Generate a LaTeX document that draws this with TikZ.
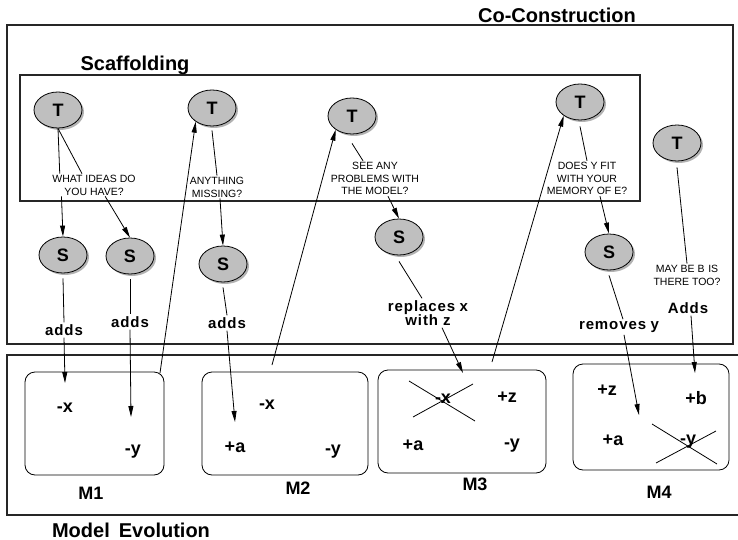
\documentclass[tikz,border=0pt]{standalone}
\usepackage{fontspec}
\setmainfont{Liberation Sans}
\usetikzlibrary{shapes.geometric,shadows,arrows.meta,calc}

\begin{document}
\begin{tikzpicture}[x=1pt,y=-1pt,
  frame/.style={draw=black!85, line width=1.1pt},
  model/.style={draw, line width=0.8pt, rounded corners=10pt, inner sep=0pt},
  actor/.style={ellipse, draw, line width=0.8pt, fill=black!25,
    minimum width=48pt, minimum height=36pt, inner sep=0pt,
    font=\fontsize{18}{18}\selectfont\bfseries,
    drop shadow={shadow xshift=2pt, shadow yshift=-2pt, fill=black!60}},
  heading/.style={font=\fontsize{20}{22}\selectfont\bfseries, inner sep=1pt},
  ask/.style={font=\fontsize{10.5}{12.8}\selectfont, align=center, inner sep=1pt},
  act/.style={font=\fontsize{15}{14}\selectfont\bfseries\addfontfeatures{LetterSpace=6},
    align=center, inner sep=2pt},
  entry/.style={font=\fontsize{18}{18}\selectfont\bfseries, inner sep=1pt},
  link/.style={line width=0.8pt},
  arr/.style={line width=0.8pt, -{Triangle[length=11pt,width=5pt]}},
]
\useasboundingbox (0,0) rectangle (738,540);

% outer frames
\draw[frame] (7,25) rectangle (733,344);
\draw[frame] (20,75) rectangle (640,201);
\draw[frame] (738,355) -- (7,355) -- (7,515) -- (738,515);

\node[heading] (cc) at (557,15) {Co-Construction};
\node[heading] (sc) at (135,65) {Scaffolding};
\node[heading] (me) at (131,530) {Model\hspace{0.45em}Evolution};

% model states
\node[model, minimum width=139pt, minimum height=103pt] (m1) at (94.5,423.5) {};
\node[model, minimum width=166pt, minimum height=103pt] (m2) at (285,423.5) {};
\node[model, minimum width=168pt, minimum height=103pt] (m3) at (462,421.5) {};
\node[model, minimum width=156pt, minimum height=106pt] (m4) at (651,417) {};

\node[entry] (m1x) at (65,408) {-x};
\node[entry] (m1y) at (133,452) {-y};
\node[entry] (m2x) at (267,405) {-x};
\node[entry] (m2a) at (235,447) {+a};
\node[entry] (m2y) at (333,452) {-y};
\node[entry] (m3x) at (443,399) {-x};
\node[entry] (m3z) at (507,397) {+z};
\node[entry] (m3a) at (413,445) {+a};
\node[entry] (m3y) at (512,446) {-y};
\node[entry] (m4z) at (607,390) {+z};
\node[entry] (m4b) at (696,398) {+b};
\node[entry] (m4a) at (613,440) {+a};
\node[entry] (m4y) at (688,442) {-y};

\node[entry] (n1) at (91,493) {M1};
\node[entry] (n2) at (298,488) {M2};
\node[entry] (n3) at (475,484) {M3};
\node[entry] (n4) at (659,492) {M4};

% struck-out entries
\draw[link] ($(m3x)+(-34,-18)$) -- ($(m3x)+(32,22)$);
\draw[link] ($(m3x)+(-30,18)$) -- ($(m3x)+(30,-15)$);
\draw[link] ($(m4y)+(-36,-18)$) -- ($(m4y)+(29,22)$);
\draw[link] ($(m4y)+(-32,21)$) -- ($(m4y)+(28,-11)$);

% teacher and student turns
\node[actor] (t1) at (58,110) {T};
\node[actor] (t2) at (212,108) {T};
\node[actor] (t3) at (352,116) {T};
\node[actor] (t4) at (580,102) {T};
\node[actor] (t5) at (677,143) {T};

\node[actor] (s1) at (63,255) {S};
\node[actor] (s2) at (130,256) {S};
\node[actor] (s3) at (223,264) {S};
\node[actor] (s4) at (399,237) {S};
\node[actor] (s5) at (609,252) {S};

\node[ask] (q1) at (94,185) {WHAT IDEAS DO\\YOU HAVE?};
\node[ask] (q2) at (217,187) {ANYTHING\\MISSING?};
\node[ask] (q3) at (375,178.5) {SEE ANY\\PROBLEMS WITH\\THE MODEL?};
\node[ask] (q4) at (587,178.5) {DOES Y FIT\\WITH YOUR\\MEMORY OF E?};
\node[ask] (q5) at (687,275) {MAY BE B\hspace{0.35em}IS\\THERE TOO?};

\node[act] (a1) at (64,330) {adds};
\node[act] (a2) at (130,322) {adds};
\node[act] (a3) at (227,323) {adds};
\node[act] (a4) at (428,313) {replaces\hspace{0.3em}x\\with z};
\node[act] (a5) at (619,327) {removes\hspace{0.3em}y};
\node[act] (a6) at (688,308) {Adds};

% arrow tips inside the model states
\coordinate (k1) at (65,383);
\coordinate (k2) at (131,417);
\coordinate (k3) at (235,422);
\coordinate (k4) at (463,373);
\coordinate (k5) at (639,415);
\coordinate (k6) at (695,373);
\coordinate (u1) at (160,373);
\coordinate (u2) at (272,365);
\coordinate (u3) at (492,362);

% teacher to question
\draw[link] (t1.south) -- ($(q1.north west)!0.1!(q1.north east)$);
\draw[link] (t1.south) -- ($(q1.north west)!0.36!(q1.north east)$);
\draw[link] ([yshift=-4pt]t2.south) -- (q2.north);
\draw[link] ([yshift=-9pt]t3.south) -- ($(q3.north)+(-12,0)$);
\draw[link] ([yshift=-6pt]t4.south) -- (q4.north);
\draw[link] ([yshift=-6pt]t5.south) -- (q5.north);

% question to student
\draw[arr] ($(q1.south west)!0.12!(q1.south east)$) -- (s1.north);
\draw[arr] ($(q1.south west)!0.63!(q1.south east)$) -- (s2.north);
\draw[arr] ($(q2.south)+(3,0)$) -- (s3.north);
\draw[arr] ($(q3.south)+(13,0)$) -- (s4.north);
\draw[arr] ($(q4.south)+(13,0)$) -- (s5.north);

% student moves into the model
\draw[link] ([yshift=-5pt]s1.south) -- (a1.north);
\draw[arr] (a1.south) -- (k1);
\draw[link] ([yshift=-5pt]s2.south) -- (a2.north);
\draw[arr] (a2.south) -- (k2);
\draw[link] ([yshift=-5pt]s3.south) -- (a3.north);
\draw[arr] (a3.south) -- (k3);
\draw[link] ([yshift=-6pt]s4.south) -- ($(a4.north)+(-6,0)$);
\draw[arr] ($(a4.south)+(14,0)$) -- (k4);
\draw[link] ([yshift=-5pt]s5.south) -- ($(a5.north)+(4,0)$);
\draw[arr] ($(a5.south)+(5,0)$) -- (k5);
\draw[arr] ($(a6.south)+(3,0)$) -- (k6);

% model back to the next teacher turn
\draw[arr] (u1) -- (t2.220);
\draw[arr] (u2) -- (t3.220);
\draw[arr] (u3) -- (t4.220);
\end{tikzpicture}
\end{document}
